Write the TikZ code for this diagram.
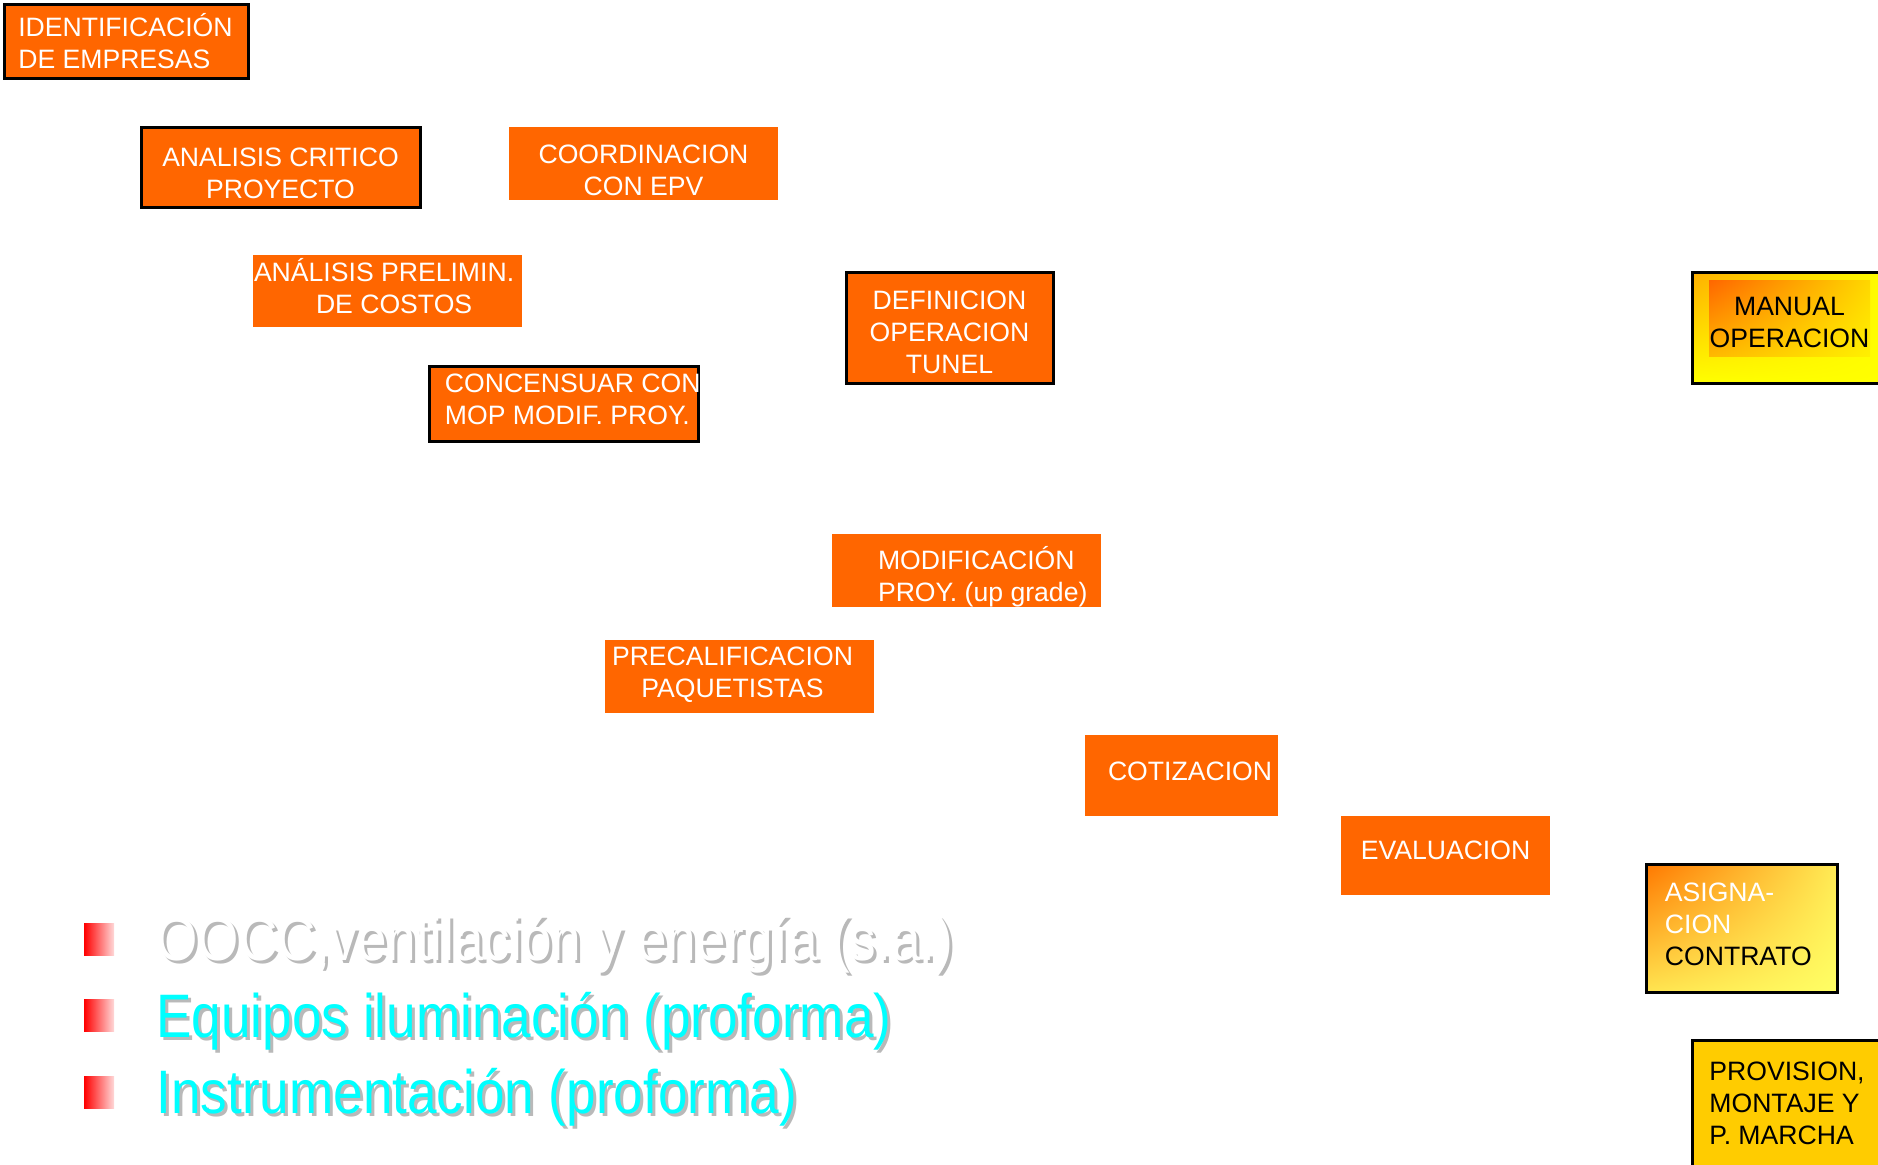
\documentclass[tikz,border=0pt]{standalone}
\usepackage{fontspec}
\setmainfont{Liberation Sans}
\newfontfamily\bulfont[FakeStretch=0.865]{Liberation Sans}
\usepackage{xcolor}
\usetikzlibrary{positioning}
\usetikzlibrary{arrows.meta}
\usetikzlibrary{shadings}
\tikzset{>=latex}
\definecolor{procorange}{RGB}{255,102,0}
\definecolor{provgold}{RGB}{255,204,0}
\definecolor{asgorange}{RGB}{255,120,0}
\definecolor{asgyellow}{RGB}{255,255,100}
\definecolor{bulcyan}{RGB}{0,255,255}
\definecolor{manorange}{RGB}{255,175,0}
\definecolor{mangoldA}{RGB}{255,215,0}
\definecolor{mangoldB}{RGB}{255,185,0}
\definecolor{mangoldC}{RGB}{255,240,0}
\tikzstyle{proc}=[rectangle,fill=procorange,inner sep=0pt]
\tikzstyle{framed}=[draw=black,line width=1.5pt]
\tikzstyle{ptext}=[inner sep=0pt,text=white,font=\fontsize{13.3}{16}\selectfont,align=center]
\tikzstyle{wline}=[white,line width=1.2pt,->]
\tikzstyle{bul}=[rectangle,inner sep=0pt,minimum width=15pt,minimum height=16pt,left color=red,right color=red!15]
\tikzstyle{btxt}=[inner sep=0pt,anchor=base west,font=\bulfont\fontsize{30.7}{36}\selectfont]

\begin{document}
\begin{tikzpicture}[x=0.5pt,y=-0.5pt]
  \useasboundingbox (0,0) rectangle (1878,1164);
  \clip (0,0) rectangle (1878,1164);

  % etapa de proyecto
  \node[proc,framed,minimum width=122pt,minimum height=37pt] (ident) at (126,41) {};
  \node[ptext,align=left,right=7.7pt of ident.west] (identtxt) {IDENTIFICACIÓN\\DE EMPRESAS};
  \node[proc,framed,minimum width=139.5pt,minimum height=40pt] (crit) at (280.5,167) {};
  \node[ptext] (crittxt) at ([yshift=-3pt]crit.center) {ANALISIS CRITICO\\PROYECTO};
  \node[proc,minimum width=134.5pt,minimum height=36.5pt] (epv) at (643.5,163.5) {};
  \node[ptext] (epvtxt) at ([yshift=-3.5pt]epv.center) {COORDINACION\\CON EPV};
  \node[proc,minimum width=134.5pt,minimum height=36pt] (costos) at (387.5,291) {};
  \node[ptext,align=left,right=0.5pt of costos.west,yshift=2.5pt] (costostxt) {ANÁLISIS PRELIMIN.\\\hspace*{31pt}DE COSTOS};
  \node[proc,framed,minimum width=134.5pt,minimum height=37.5pt] (mop) at (563.5,403.5) {};
  \node[ptext,align=left,right=8.5pt of mop.west,yshift=2pt] (moptxt) {CONCENSUAR CON\\MOP MODIF. PROY.};
  \node[proc,framed,minimum width=103.5pt,minimum height=55.5pt] (defop) at (949.5,327.5) {};
  \node[ptext] (defoptxt) at ([yshift=-2.5pt]defop.center) {DEFINICION\\OPERACION\\TUNEL};

  % manual
  \node[framed,minimum width=99pt,minimum height=55.5pt,
        upper left=manorange,upper right=yellow,
        lower left=yellow,lower right=yellow] (manual) at (1791,327.5) {};
  \node[minimum width=80.5pt,minimum height=38pt,inner sep=0pt,
        upper left=procorange,upper right=mangoldA,
        lower left=mangoldB,lower right=mangoldC] (manualin) at (1789.5,318) {};
  \node[ptext,text=black] (manualtxt) at ([yshift=-2pt]manualin.center) {MANUAL\\OPERACION};

  % etapa de contratacion
  \node[proc,minimum width=134.5pt,minimum height=36.5pt] (upg) at (966.5,570.5) {};
  \node[ptext,align=left,right=23pt of upg.west,yshift=-3pt] (upgtxt) {MODIFICACIÓN\\PROY. (up grade)};
  \node[proc,minimum width=134.5pt,minimum height=36.5pt] (precal) at (739.5,676.5) {};
  \node[ptext] (precaltxt) at ([xshift=-3.5pt,yshift=1pt]precal.center) {PRECALIFICACION\\PAQUETISTAS};
  \node[proc,minimum width=96.5pt,minimum height=40.5pt] (cotiz) at (1181.5,775.5) {};
  \node[ptext,right=11.5pt of cotiz.west,yshift=2pt] (cotiztxt) {COTIZACION};
  \node[proc,minimum width=104.5pt,minimum height=39.5pt] (eval) at (1445.5,855.5) {};
  \node[ptext] (evaltxt) at ([yshift=2.5pt]eval.center) {EVALUACION};
  \node[framed,minimum width=95.5pt,minimum height=64pt,
        upper left=asgorange,upper right=asgyellow!85!asgorange,
        lower left=asgyellow!80!asgorange,lower right=asgyellow] (asig) at (1741.5,928) {};
  \node[ptext,align=left,text=black,right=10pt of asig.west,yshift=2pt] (asigtxt) {\textcolor{white}{ASIGNA-}\\\textcolor{white}{CION}\\CONTRATO};
  \node[framed,fill=provgold,minimum width=99pt,minimum height=75pt] (prov) at (1791,1115) {};
  \node[ptext,align=left,text=black,anchor=north west] (provtxt) at (1709,1062) {PROVISION,\\MONTAJE Y\\P. MARCHA};

  % puntas de flecha blancas
  \coordinate (m1) at (1660,304);
  \coordinate (m2) at (1660,337);
  \coordinate (p1) at (1660,1103);
  \draw[wline] (m1) -- (manual.west |- m1);
  \draw[wline] (m2) -- (manual.west |- m2);
  \draw[wline] (p1) -- (prov.west |- p1);

  % lista
  \foreach \i/\yy in {1/939,2/1015,3/1092}
    \node[bul] (bul\i) at (99,\yy) {};
  \node[btxt,text=gray!55] (item1s) at (159,963) {OOCC,ventilación y energía (s.a.)};
  \node[btxt,text=white] (item1) at (156,960) {OOCC,ventilación y energía (s.a.)};
  \node[btxt,text=gray!55] (item2s) at (159,1040) {Equipos iluminación (proforma)};
  \node[btxt,text=bulcyan] (item2) at (156,1037) {Equipos iluminación (proforma)};
  \node[btxt,text=gray!55] (item3s) at (159,1116) {Instrumentación (proforma)};
  \node[btxt,text=bulcyan] (item3) at (156,1113) {Instrumentación (proforma)};
\end{tikzpicture}
\end{document}
